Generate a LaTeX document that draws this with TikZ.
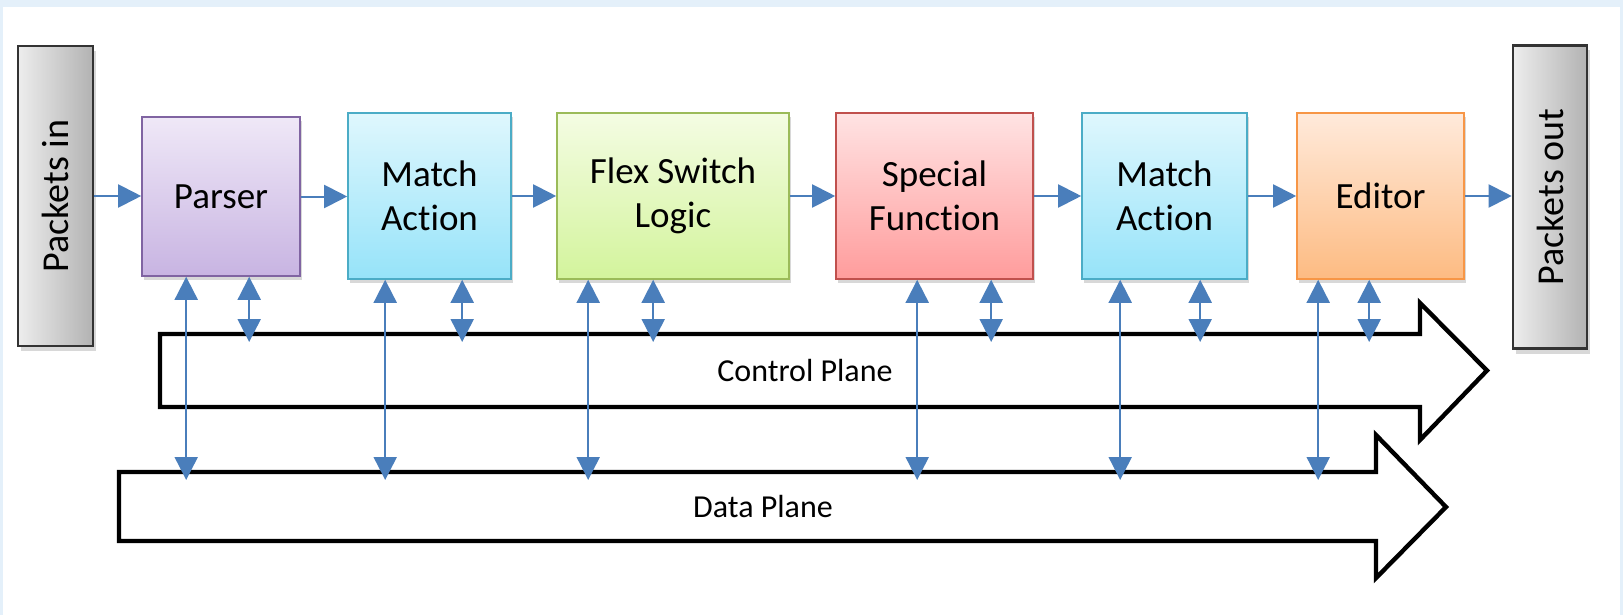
\documentclass[tikz,border=0pt]{standalone}
\usepackage{fontspec}
\setmainfont{Carlito}[Ligatures=NoCommon]
\usepackage{tikz}
\usetikzlibrary{arrows.meta, calc, shadows}

\definecolor{bgblue}{HTML}{E4F0FA}
\definecolor{linkblue}{HTML}{4A7EBB}
\definecolor{parserbd}{HTML}{8064A2}
\definecolor{parsertop}{HTML}{EFE8F7}
\definecolor{parserbot}{HTML}{C8B4E2}
\definecolor{matchbd}{HTML}{4BACC6}
\definecolor{matchtop}{HTML}{DFF7FD}
\definecolor{matchbot}{HTML}{96E3F9}
\definecolor{flexbd}{HTML}{9BBB59}
\definecolor{flextop}{HTML}{F4FCE3}
\definecolor{flexbot}{HTML}{D3F49C}
\definecolor{specbd}{HTML}{C0504D}
\definecolor{spectop}{HTML}{FFE3E3}
\definecolor{specbot}{HTML}{FF9C9C}
\definecolor{editbd}{HTML}{F79646}
\definecolor{edittop}{HTML}{FFEADB}
\definecolor{editbot}{HTML}{FDBB82}

\tikzset{
  block/.style={draw, line width=0.8pt, align=center, minimum height=83pt,
    font=\fontsize{18.5}{22}\selectfont,
    drop shadow={shadow xshift=1.2pt, shadow yshift=-2pt, opacity=.3}},
  pkt/.style={draw=black!80, line width=1.3pt, left color=black!7, right color=black!30,
    rotate=90, font=\fontsize{19}{22}\selectfont,
    drop shadow={shadow xshift=1.5pt, shadow yshift=-2.5pt, opacity=.3}},
  tip/.style={Triangle[width=11.5pt,length=11.5pt]},
  flow/.style={linkblue, line width=1pt, -{Triangle[width=11.5pt,length=11.5pt]}},
  link/.style={linkblue, line width=1pt,
    {Triangle[width=11.5pt,length=11.5pt]}-{Triangle[width=11.5pt,length=11.5pt]}},
  plane/.style={draw, line width=2.2pt, fill=white},
  planelbl/.style={font=\fontsize{16}{19}\selectfont}
}

\begin{document}
\begin{tikzpicture}[x=0.5pt, y=-0.5pt]
  \useasboundingbox (0,0) rectangle (1623,615);
  % window frame
  \fill[bgblue] (0,0) rectangle (1623,615);
  \fill[white] (3,7) rectangle (1620,615);

  % planes
  \draw[plane] (160,334) -- (1420,334) -- (1420,303) -- (1487,370.5)
    -- (1420,440) -- (1420,407) -- (160,407) -- cycle;
  \draw[plane] (119,472) -- (1376,472) -- (1376,435) -- (1446,507)
    -- (1376,578) -- (1376,541) -- (119,541) -- cycle;
  \node[planelbl] (ctrllbl) at (805,370.5) {Control Plane};
  \node[planelbl] (datalbl) at (763,507) {Data Plane};
  \coordinate (ctop) at (0,342);
  \coordinate (dtop) at (0,480);

  % pipeline
  \node[pkt, minimum width=150pt, minimum height=37.5pt] (pin) at (55.3,196) {Packets in};
  \node[block, top color=parsertop, bottom color=parserbot, draw=parserbd,
    minimum width=79pt, minimum height=79.5pt] (parser) at (221,196.5) {Parser};
  \node[block, top color=matchtop, bottom color=matchbot, draw=matchbd,
    minimum width=81.5pt] (ma1) at (429.5,196) {Match\\Action};
  \node[block, top color=flextop, bottom color=flexbot, draw=flexbd,
    minimum width=116pt] (flex) at (673,196) {Flex Switch\\Logic};
  \node[block, top color=spectop, bottom color=specbot, draw=specbd,
    minimum width=98.5pt] (spec) at (934.5,196) {Special\\Function};
  \node[block, top color=matchtop, bottom color=matchbot, draw=matchbd,
    minimum width=82.5pt] (ma2) at (1164.5,196) {Match\\Action};
  \node[block, top color=edittop, bottom color=editbot, draw=editbd,
    minimum width=83.5pt] (editor) at (1380.5,196) {Editor};
  \node[pkt, minimum width=151.5pt, minimum height=37pt] (pout) at (1550,197) {Packets out};

  % rotated boxes: south is the right side, north the left side
  \draw[flow] (pin.south) -- (pin.south -| parser.west);
  \foreach \a/\b in {parser/ma1, ma1/flex, flex/spec, spec/ma2, ma2/editor}
    \draw[flow] (\a.east) -- (\a.east -| \b.west);
  \draw[flow] (editor.east) -- (editor.east -| pout.north);

  % links down to the planes
  \foreach \blk/\dl/\ds in {parser/45/108, ma1/38/115, flex/32/97, spec/82/156,
                            ma2/39/119, editor/22/73} {
    \path ($(\blk.south west)+(\dl,0)$) coordinate (\blk-l)
          ($(\blk.south west)+(\ds,0)$) coordinate (\blk-s);
    \draw[link] (\blk-l) -- (\blk-l |- dtop);
    \draw[link] (\blk-s) -- (\blk-s |- ctop);
  }
\end{tikzpicture}
\end{document}
